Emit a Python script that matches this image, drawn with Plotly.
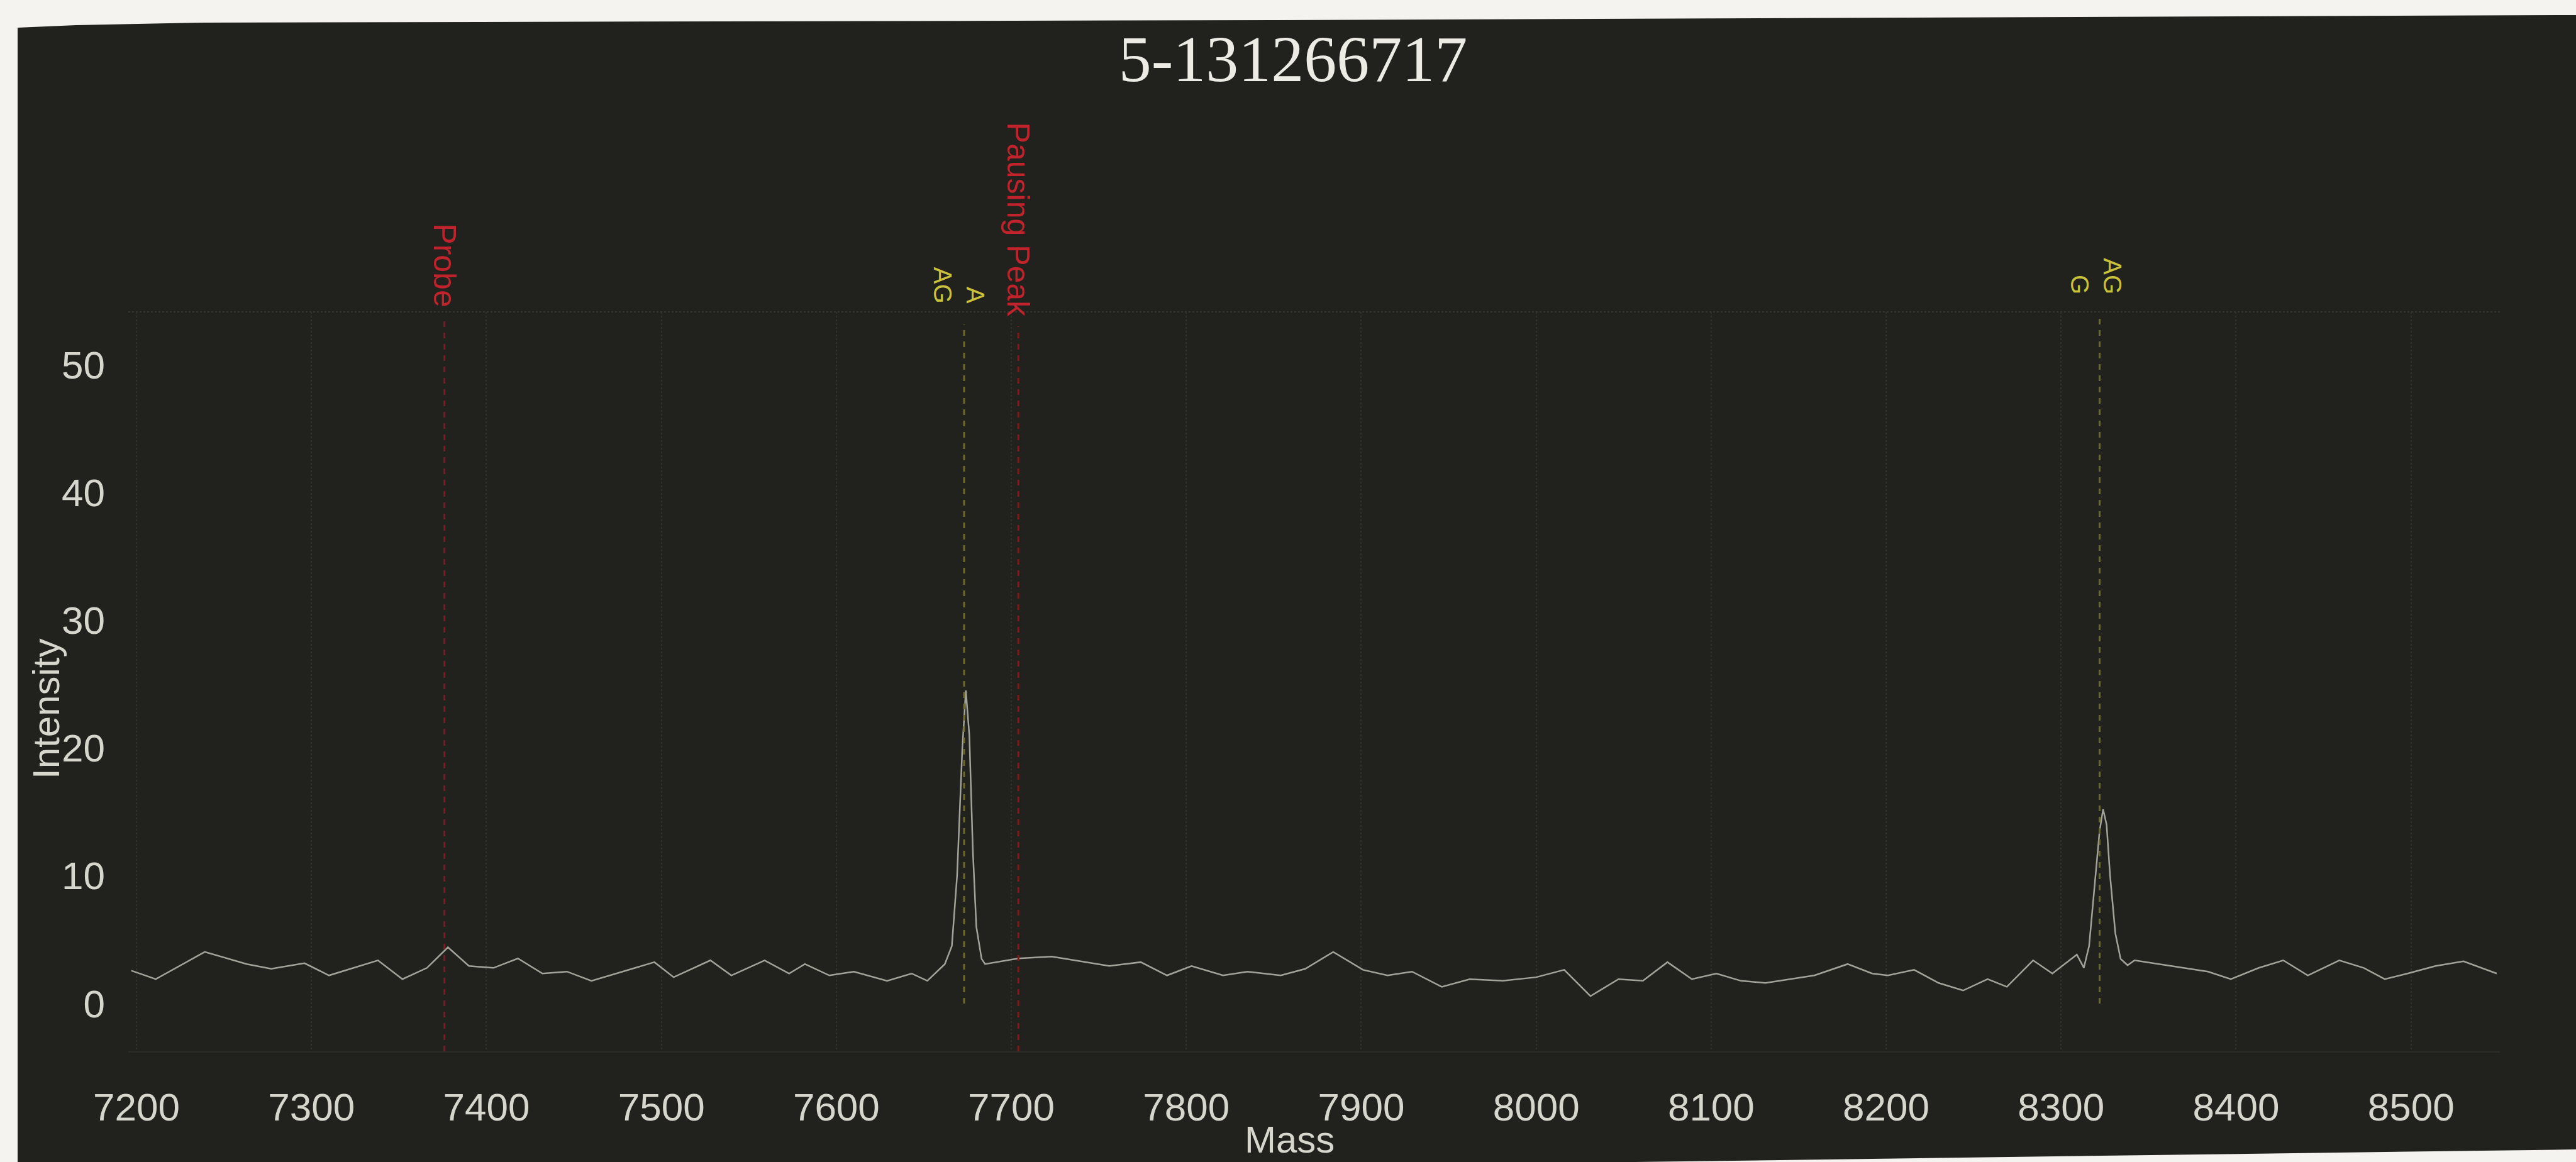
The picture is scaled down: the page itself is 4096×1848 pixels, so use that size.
import plotly.graph_objects as go

# ---- data ----
mass = [7197, 7211, 7239, 7263, 7277, 7296, 7310, 7338, 7352, 7366, 7378, 7390, 7404, 7418,
        7432, 7446, 7460, 7474, 7496, 7507, 7528, 7540, 7559, 7573, 7582, 7596, 7610, 7629,
        7643, 7652, 7662, 7666, 7669, 7672, 7674, 7676, 7678, 7680, 7683, 7685, 7704, 7723,
        7737, 7756, 7774, 7789, 7803, 7821, 7835, 7854, 7868, 7884, 7901, 7915, 7929, 7946,
        7962, 7981, 8000, 8016, 8031, 8047, 8061, 8075, 8089, 8103, 8117, 8131, 8145, 8159,
        8178, 8192, 8201, 8216, 8230, 8244, 8258, 8269, 8284, 8295, 8309, 8313, 8316, 8319,
        8322, 8324, 8326, 8328, 8331, 8334, 8338, 8342, 8356, 8370, 8384, 8397, 8413, 8427,
        8441, 8459, 8473, 8485, 8498, 8514, 8530, 8549]
intensity = [2.58, 1.91, 4.04, 3.09, 2.72, 3.16, 2.2, 3.38, 1.91, 2.79, 4.4, 2.94, 2.79, 3.53,
             2.35, 2.5, 1.78, 2.35, 3.24, 2.06, 3.38, 2.2, 3.38, 2.35, 3.09, 2.2, 2.5, 1.78,
             2.35, 1.78, 3.09, 4.5, 10.0, 20.0, 24.5, 21.0, 12.0, 6.0, 3.5, 3.09, 3.53, 3.68,
             3.38, 2.94, 3.24, 2.2, 2.94, 2.2, 2.5, 2.2, 2.72, 4.04, 2.64, 2.2, 2.5, 1.31,
             1.91, 1.78, 2.06, 2.64, 0.58, 1.91, 1.78, 3.24, 1.91, 2.35, 1.78, 1.61, 1.91, 2.2,
             3.09, 2.35, 2.2, 2.64, 1.61, 1.02, 1.91, 1.31, 3.38, 2.35, 3.83, 2.8, 4.5, 9.0,
             13.5, 15.2, 14.0, 10.0, 5.5, 3.5, 3.0, 3.38, 3.09, 2.79, 2.5, 1.91, 2.79, 3.38,
             2.2, 3.38, 2.79, 1.91, 2.35, 2.94, 3.31, 2.35]

title_text = "5-131266717"
x_ticks = [7200, 7300, 7400, 7500, 7600, 7700, 7800, 7900, 8000, 8100, 8200, 8300, 8400, 8500]
y_ticks = [0, 10, 20, 30, 40, 50]

marker_labels = ["Probe", "Pausing Peak"]
marker_mass = [7376, 7704]
allele_labels = ["A<br>AG", "AG<br>G"]
allele_mass = [7673, 8322]
allele_label_mass = [7670, 8320]

# ---- layout geometry ----
W, H = 4096, 1848
L, R, T, B = 204, 121, 496, 176
PW, PH = W - L - R, H - T - B
XR = [7195.3, 8550.8]
YR = [-3.74, 54.13]

BG = "#21221d"
TXT = "#d6d6cc"
RED = "#c0232c"
RED_LINE = "#7c1c20"
YEL = "#c9c23a"
YEL_LINE = "#6d6a26"


def px_to_paper(px, py):
    return (px - L) / PW, 1 - (py - T) / PH


def yv(v):
    """value on the intensity scale -> paper fraction (works above the axis top too)"""
    return (v - YR[0]) / (YR[1] - YR[0])


fig = go.Figure()
fig.add_trace(go.Scatter(x=mass, y=intensity, mode="lines",
                         line=dict(color="#a3a39a", width=2.5),
                         hoverinfo="skip", showlegend=False))

shapes = []
annotations = []

# faint dotted frame line at top of plot area
shapes.append(dict(type="line", xref="paper", yref="paper", x0=0, x1=1, y0=1, y1=1,
                   line=dict(color="#34352e", width=2, dash="dot"), layer="below"))

# red marker lines and labels
marker_bottom = [54.4, 53.6]
for lab, m, yb in zip(marker_labels, marker_mass, marker_bottom):
    shapes.append(dict(type="line", xref="x", yref="paper", x0=m, x1=m, y0=0, y1=yv(yb - 0.6),
                       line=dict(color=RED_LINE, width=3, dash="dash")))
    annotations.append(dict(x=m, y=yv(yb), xref="x", yref="paper", text=lab, showarrow=False,
                            textangle=90, xanchor="center", yanchor="bottom",
                            font=dict(family="Liberation Sans, Arial", size=50, color=RED)))

# yellow allele lines and labels
allele_bottom = [54.7, 55.4]
for lab, m, lm, yb in zip(allele_labels, allele_mass, allele_label_mass, allele_bottom):
    shapes.append(dict(type="line", xref="x", yref="paper", x0=m, x1=m, y0=yv(0), y1=yv(yb - 1.5),
                       line=dict(color=YEL_LINE, width=3, dash="dash")))
    annotations.append(dict(x=lm, y=yv(yb), xref="x", yref="paper", text=lab, showarrow=False,
                            textangle=90, align="right", xanchor="center", yanchor="bottom",
                            font=dict(family="Liberation Sans, Arial", size=40, color=YEL)))

# axis titles
ax_, ay_ = px_to_paper(73, 1128)
annotations.append(dict(x=ax_, y=ay_, xref="paper", yref="paper", text="Intensity",
                        showarrow=False, textangle=-90, xanchor="center", yanchor="middle",
                        font=dict(family="Liberation Sans, Arial", size=60, color=TXT)))
mx_, my_ = px_to_paper(2050, 1812)
annotations.append(dict(x=mx_, y=my_, xref="paper", yref="paper", text="Mass",
                        showarrow=False, xanchor="center", yanchor="middle",
                        font=dict(family="Liberation Sans, Arial", size=60, color=TXT)))


# scan border (white paper around the dark photo)
def path_from_px(points):
    pts = [px_to_paper(x, y) for x, y in points]
    return "M " + " L ".join(f"{x:.5f},{y:.5f}" for x, y in pts) + " Z"


shapes.append(dict(type="path", xref="paper", yref="paper",
                   path=path_from_px([(0, 0), (W, 0), (W, 24), (2023, 32), (324, 36), (121, 40),
                                      (28, 44), (28, H), (0, H)]),
                   fillcolor="#f4f3ef", line=dict(width=0), layer="above"))
shapes.append(dict(type="path", xref="paper", yref="paper",
                   path=path_from_px([(2600, H), (W, 1828), (W, H)]),
                   fillcolor="#f4f3ef", line=dict(width=0), layer="above"))

fig.update_layout(
    width=W, height=H,
    margin=dict(l=L, r=R, t=T, b=B),
    paper_bgcolor=BG, plot_bgcolor=BG,
    showlegend=False,
    title=dict(text=title_text, x=2056 / W, xanchor="center", xref="container",
               y=1 - 93 / H, yanchor="middle", yref="container",
               font=dict(family="Liberation Serif, Times New Roman", size=104, color="#ecebe4")),
    shapes=shapes,
    annotations=annotations,
)
fig.update_xaxes(range=XR, tickvals=x_ticks, ticktext=[str(v) for v in x_ticks],
                 showgrid=True, gridcolor="#30312a", griddash="dot", gridwidth=2,
                 zeroline=False, showline=True, linecolor="#2c2d27", linewidth=2,
                 ticks="", ticklabelstandoff=34,
                 tickfont=dict(family="Liberation Sans, Arial", size=62, color=TXT))
fig.update_yaxes(range=YR, tickvals=y_ticks, ticktext=[str(v) for v in y_ticks],
                 showgrid=False, zeroline=False, showline=False,
                 ticks="", ticklabelstandoff=36,
                 tickfont=dict(family="Liberation Sans, Arial", size=62, color=TXT))

fig.write_html("out.html")
